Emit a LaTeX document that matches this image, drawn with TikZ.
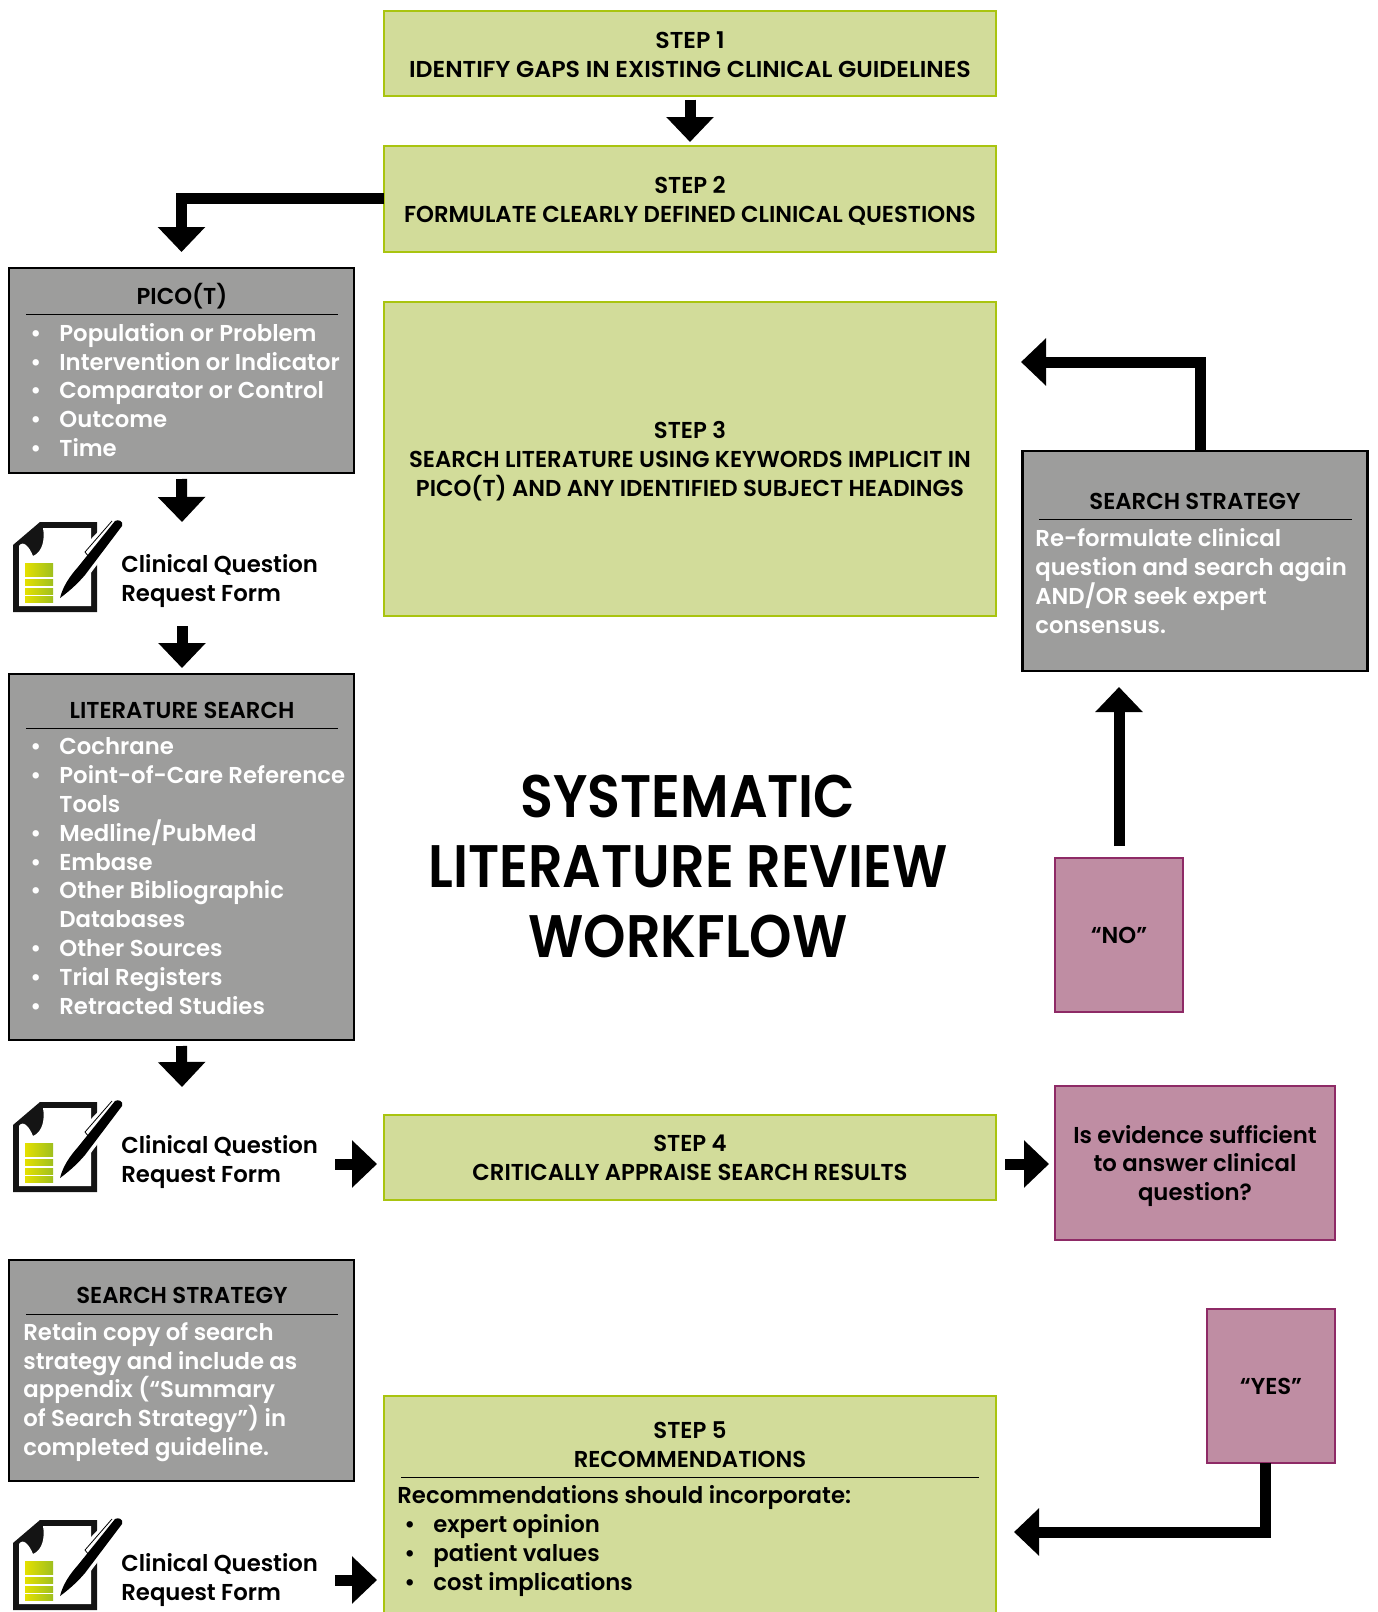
\documentclass[tikz,border=0pt]{standalone}
\usepackage{fontspec}
\setmainfont[FakeStretch=0.99]{Poppins SemiBold}
\newfontfamily\capfont[FakeStretch=0.99]{Poppins SemiBold}
\newfontfamily\widecap[FakeStretch=1.03]{Poppins SemiBold}
\newfontfamily\bigfont[FakeStretch=0.90]{Poppins SemiBold}
\usetikzlibrary{arrows.meta}
\definecolor{stepfill}{HTML}{D2DC9A}
\definecolor{stepline}{HTML}{A9C40F}
\definecolor{greyfill}{HTML}{9D9D9C}
\definecolor{pinkfill}{HTML}{BF8DA3}
\definecolor{pinkline}{HTML}{8E2A66}
\definecolor{barleft}{HTML}{E4E000}
\definecolor{barright}{HTML}{9FBF1E}
\newcommand{\itm}{\makebox[14.5pt][l]{\textbullet}}
\newcommand{\itmsp}{\hspace*{14.5pt}}
\tikzset{
    x=0.5pt, y=-0.5pt,
    basebox/.style={rectangle, anchor=north west, outer sep=0pt, inner sep=0pt},
    stepbox/.style={basebox, draw=stepline, fill=stepfill, line width=1.4pt},
    greybox/.style={basebox, draw=black, fill=greyfill, line width=1.2pt},
    pinkbox/.style={basebox, draw=pinkline, fill=pinkfill, line width=1.2pt},
    cap text/.style={inner sep=0pt, align=center, font=\fontsize{11.5}{14.4}\capfont},
    mixed text/.style={inner sep=0pt, align=center, font=\fontsize{11.5}{14.4}\selectfont},
    body text/.style={inner sep=0pt, anchor=west, align=left, font=\fontsize{11.5}{14.4}\selectfont},
    white text/.style={body text, text=white},
    headrule/.style={line width=0.4pt},
    blockarrow/.style={line width=5.5pt, -{Triangle[width=23pt,length=12.5pt]}},
    pics/formicon/.style={code={
        \fill[black!92] (0,23) -- (27,0) -- (84,0) -- (84,90) -- (0,90) -- cycle;
        \fill[white] (6,24) .. controls (10,18) and (16,24) .. (20,34) .. controls (30,30) and (32,16) .. (30,6) -- (78,6) -- (78,84) -- (6,84) -- cycle;
        \foreach \ya/\yb in {41/48, 49/54, 57/63, 66/72, 74/80}
            \shade[left color=barleft, right color=barright] (12,\ya) rectangle (40,\yb);
        \fill[white] (60,36) -- (98,-4) -- (112,6) -- (74,56) -- cycle;
        \fill[black] (47,76) .. controls (50,64) and (57,54) .. (65,45) -- (102,-1) .. controls (105,-3) and (111,-1) .. (109,4) -- (72,53) .. controls (66,60) and (58,68) .. (47,76) -- cycle;
        \draw[black, line width=0.4pt] (72,30) -- (99,-1);
        \draw[black, line width=0.4pt] (72,30) -- (76,35);
    }}
}
\begin{document}
\begin{tikzpicture}
    \useasboundingbox (0,0) rectangle (1377,1612);

    % steps
    \node[stepbox, minimum width=306pt, minimum height=42.5pt] (step1) at (384,11) {};
    \node[stepbox, minimum width=306pt, minimum height=53pt]   (step2) at (384,146) {};
    \node[stepbox, minimum width=306pt, minimum height=157pt]  (step3) at (384,302) {};
    \node[stepbox, minimum width=306pt, minimum height=42.5pt] (step4) at (384,1115) {};
    \node[stepbox, minimum width=306pt, minimum height=115pt]  (step5) at (384,1396) {};
    \node[cap text, font=\fontsize{11.5}{14.4}\widecap, yshift=-0.5pt] (step1text) at (step1) {STEP 1\\IDENTIFY GAPS IN EXISTING CLINICAL GUIDELINES};
    \node[cap text, yshift=-1pt] (step2text) at (step2) {STEP 2\\FORMULATE CLEARLY DEFINED CLINICAL QUESTIONS};
    \node[cap text, yshift=-1pt] (step3text) at (step3) {STEP 3\\SEARCH LITERATURE USING KEYWORDS IMPLICIT IN\\PICO(T) AND ANY IDENTIFIED SUBJECT HEADINGS};
    \node[cap text] (step4text) at (step4) {STEP 4\\CRITICALLY APPRAISE SEARCH RESULTS};
    \node[cap text] (step5text) at (690,1444.5) {STEP 5\\RECOMMENDATIONS};
    \draw[headrule] (401,1477.5) -- (979,1477.5);
    \node[body text] (step5list) at (397,1541) {Recommendations should incorporate:\\[0pt]
        \hspace*{3.5pt}\itm expert opinion\\ \hspace*{3.5pt}\itm patient values\\ \hspace*{3.5pt}\itm cost implications};

    % grey boxes
    \node[greybox, minimum width=172.5pt, minimum height=102.5pt] (pico) at (9,268) {};
    \node[cap text] (picotitle) at (182,296) {PICO(T)};
    \draw[headrule] (26,314.5) -- (338,314.5);
    \node[white text] (picolist) at (30,390) {\itm Population or Problem\\ \itm Intervention or Indicator\\ \itm Comparator or Control\\ \itm Outcome\\ \itm Time};

    \node[greybox, minimum width=172.5pt, minimum height=183pt] (litsearch) at (9,674) {};
    \node[cap text] (littitle) at (182,710) {LITERATURE SEARCH};
    \draw[headrule] (26,728.5) -- (338,728.5);
    \node[white text] (litlist) at (30,876) {\itm Cochrane\\ \itm Point-of-Care Reference\\ \itmsp Tools\\ \itm Medline/PubMed\\ \itm Embase\\ \itm Other Bibliographic\\ \itmsp Databases\\ \itm Other Sources\\ \itm Trial Registers\\ \itm Retracted Studies};

    \node[greybox, minimum width=172.5pt, minimum height=110.5pt] (keepsearch) at (9,1260) {};
    \node[cap text] (keeptitle) at (182,1295) {SEARCH STRATEGY};
    \draw[headrule] (26,1314.5) -- (338,1314.5);
    \node[white text] (keeptext) at (23,1392) {Retain copy of search\\strategy and include as\\appendix (“Summary\\of Search Strategy”) in\\completed guideline.};

    \node[greybox, minimum width=172.5pt, minimum height=110pt] (research) at (1022.5,451) {};
    \node[cap text] (researchtitle) at (1195,501) {SEARCH STRATEGY};
    \draw[headrule] (1039,519.5) -- (1352,519.5);
    \node[white text] (researchtext) at (1035,581) {Re-formulate clinical\\question and search again\\AND/OR seek expert\\consensus.};

    % pink boxes
    \node[pinkbox, minimum width=64pt, minimum height=77pt]  (nobox) at (1055,858) {};
    \node[cap text] (notext) at (nobox) {“NO”};
    \node[pinkbox, minimum width=140pt, minimum height=77pt] (evidence) at (1055,1086) {};
    \node[mixed text, yshift=-1.5pt] (evidencetext) at (evidence) {Is evidence sufficient\\to answer clinical\\question?};
    \node[pinkbox, minimum width=64pt, minimum height=77pt]  (yesbox) at (1207,1309) {};
    \node[cap text] (yestext) at (yesbox) {“YES”};

    % forms
    \pic at (13,522) {formicon};
    \pic at (13,1102) {formicon};
    \pic at (13,1520) {formicon};
    \node[body text] (form1) at (121,581) {Clinical Question\\Request Form};
    \node[body text] (form2) at (121,1162) {Clinical Question\\Request Form};
    \node[body text] (form3) at (121,1580) {Clinical Question\\Request Form};

    % title
    \node[inner sep=0pt, align=center, font=\fontsize{30}{35}\bigfont] (title) at (688,866) {SYSTEMATIC\\LITERATURE REVIEW\\WORKFLOW};

    % arrows
    \coordinate (form1bottom) at (182,626);
    \coordinate (form2right) at (335,1164);
    \coordinate (form3right) at (335,1580);
    \coordinate (step4arrow) at (step4.east |- form2right);
    \coordinate (step3arrow) at (step3.east |- 0,362);
    \coordinate (step5arrow) at (step5.east |- 0,1532);
    \draw[blockarrow, shorten <=2pt, shorten >=2pt] (step1) ++(0,42) -- (step2.north);
    \draw[blockarrow, shorten >=8pt] (step2.west |- 0,198) -| (pico.north);
    \draw[blockarrow, shorten <=3pt] (pico.south) -- (182,522);
    \draw[blockarrow] (form1bottom) -- (182,668);
    \draw[blockarrow, shorten <=3pt] (litsearch.south) -- (182,1087);
    \draw[blockarrow] (form2right) -- (377,1164);
    \draw[blockarrow] (form3right) -- (377,1580);
    \draw[blockarrow, shorten <=4.5pt, shorten >=3pt] (step4arrow) -- (evidence.west |- step4arrow);
    \draw[blockarrow, shorten >=12.5pt] (research.north -| 1200,0) |- (step3arrow);
    \draw[blockarrow, shorten <=6pt, shorten >=8pt] (nobox.north) -- (research.south -| nobox.north);
    \draw[blockarrow, shorten >=9pt] (yesbox.south -| 1265,0) |- (step5arrow);
\end{tikzpicture}
\end{document}
